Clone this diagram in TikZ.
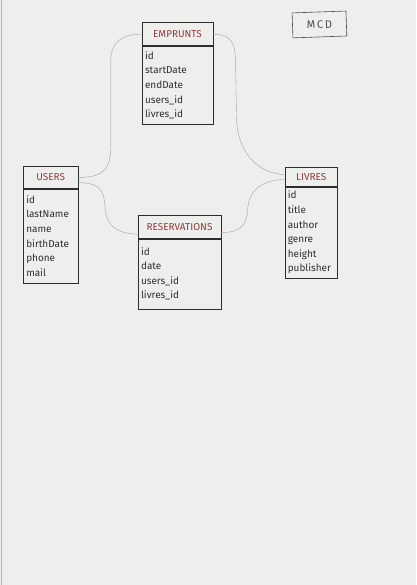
\documentclass[tikz,border=0pt]{standalone}
\usepackage{fontspec}
\setmainfont{Fira Sans}
\usepackage{xcolor}
\usetikzlibrary{positioning}

\definecolor{paper}{HTML}{EEEFED}
\definecolor{ink}{HTML}{2E2E2E}
\definecolor{titleink}{HTML}{8E3B3B}
\definecolor{link}{HTML}{A3A3A3}

\begin{document}
\begin{tikzpicture}[x=1pt, y=-1pt]
  \tikzstyle{entity}=[draw=ink, semithick, anchor=north west, inner sep=0pt,
  font=\fontsize{10}{12}\selectfont, text=titleink]
  \tikzstyle{attrs}=[draw=ink, semithick, anchor=north west, align=left,
  inner xsep=3pt, inner ysep=2pt, font=\fontsize{10}{14.6}\selectfont, text=ink]
  \tikzstyle{link}=[draw=link, thin]

  \fill[paper] (0,0) rectangle (417,585);
  \draw[paper!75!black, line width=1pt] (1.5,0) -- (1.5,585);
  \useasboundingbox (0,0) rectangle (417,585);

  \node (mcd) at (320,24) [draw=ink!85, semithick, rotate=2, minimum width=54pt, minimum height=25pt,
  font=\fontsize{11}{13}\selectfont, text=ink!85] {M\,C\,D};

  \node (emprunts) at (142,22) [entity, minimum width=71pt, minimum height=23pt] {EMPRUNTS};
  \node (empruntsattr) at (emprunts.south west) [attrs, text width=65pt, minimum height=78pt]
  {id\\startDate\\endDate\\users\_id\\livres\_id};

  \node (users) at (23,166) [entity, minimum width=55pt, minimum height=22pt] {USERS};
  \node (usersattr) at (users.south west) [attrs, text width=49pt, minimum height=94pt]
  {id\\lastName\\name\\birthDate\\phone\\mail};

  \node (reservations) at (138,215) [entity, minimum width=83pt, minimum height=23pt] {RESERVATIONS};
  \node (reservationsattr) at (reservations.south west) [attrs, text width=77pt, minimum height=70pt]
  {id\\date\\users\_id\\livres\_id};

  \node (livres) at (285,167) [entity, minimum width=53pt, minimum height=19pt] {LIVRES};
  \node (livresattr) at (livres.south west) [attrs, text width=47pt, minimum height=91pt]
  {id\\title\\author\\genre\\height\\publisher};

  % links between the entities
  \draw[link] (users.east) .. controls (105,177) and (111,168) .. (111,145)
  -- (111,60) .. controls (111,42) and (122,33.5) .. (emprunts.west);
  \draw[link] (emprunts.east) .. controls (232,34) and (236,42) .. (236,65)
  -- (237,120) .. controls (239,155) and (260,173) .. (livres.175);
  \draw[link] (users.-10) .. controls (100,183) and (104,190) .. (105,205)
  .. controls (106,225) and (115,233) .. (reservations.190);
  \draw[link] (reservations.-8) .. controls (240,232) and (247,226) .. (248,210)
  .. controls (249,190) and (262,180) .. (livres.185);
\end{tikzpicture}
\end{document}
